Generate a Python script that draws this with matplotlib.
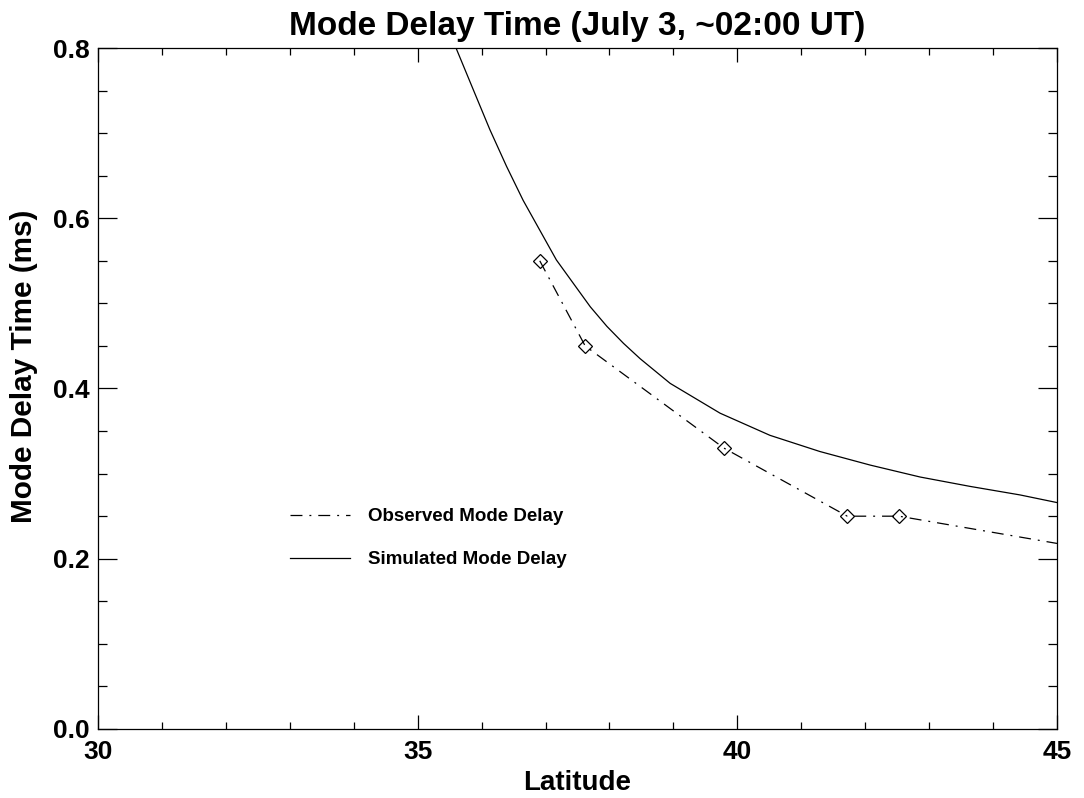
import matplotlib
matplotlib.use("Agg")
import matplotlib.pyplot as plt
from matplotlib.ticker import MultipleLocator, FormatStrFormatter

plt.rcParams['font.family'] = ['Liberation Sans', 'DejaVu Sans']
plt.rcParams['font.weight'] = 'bold'
plt.rcParams['lines.scale_dashes'] = False

# Observed mode delay (diamonds), line continues to right edge
obs_lat = [36.91, 37.62, 39.79, 41.72, 42.53, 45.0]
obs_delay = [0.550, 0.450, 0.330, 0.250, 0.250, 0.218]
obs_marked = 5  # number of points carrying a diamond marker

# Simulated mode delay curve
sim_lat = [35.60, 35.87, 36.13, 36.39, 36.65, 36.91, 37.17, 37.43, 37.70,
           37.96, 38.22, 38.48, 38.95, 39.73, 40.51, 41.29, 42.08, 42.86,
           43.64, 44.42, 45.0]
sim_delay = [0.800, 0.751, 0.704, 0.661, 0.621, 0.586, 0.551, 0.524, 0.496,
             0.473, 0.453, 0.435, 0.406, 0.371, 0.345, 0.326, 0.310, 0.296,
             0.285, 0.275, 0.266]

title = "Mode Delay Time (July 3, ~02:00 UT)"
xlabel = "Latitude"
ylabel = "Mode Delay Time (ms)"
obs_label = "Observed Mode Delay"
sim_label = "Simulated Mode Delay"

fig = plt.figure(figsize=(10.84, 7.98), dpi=100)
ax = fig.add_axes([98/1084, 1 - 729/798, (1057-98)/1084, (729-48)/798])

dashdot = (0, (8.6, 5.0, 1.4, 5.0))
ax.plot(obs_lat, obs_delay, color='black', lw=0.9, linestyle=dashdot,
        label=obs_label)
ax.plot(obs_lat[:obs_marked], obs_delay[:obs_marked], linestyle='none',
        marker='D', markersize=7.5, markerfacecolor='none',
        markeredgecolor='black', markeredgewidth=0.9)
ax.plot(sim_lat, sim_delay, color='black', lw=0.9, label=sim_label)

ax.set_xlim(30, 45)
ax.set_ylim(0, 0.8)
ax.xaxis.set_major_locator(MultipleLocator(5))
ax.xaxis.set_minor_locator(MultipleLocator(1))
ax.yaxis.set_major_locator(MultipleLocator(0.2))
ax.yaxis.set_minor_locator(MultipleLocator(0.05))
ax.yaxis.set_major_formatter(FormatStrFormatter('%.1f'))

ax.tick_params(axis='both', which='both', direction='in', top=True, right=True,
               width=0.9, labelsize=19)
ax.tick_params(axis='x', which='major', length=10, pad=8)
ax.tick_params(axis='x', which='minor', length=5)
ax.tick_params(axis='y', which='major', length=13.5, pad=6)
ax.tick_params(axis='y', which='minor', length=6.8)
for s in ax.spines.values():
    s.set_linewidth(0.9)

ax.set_title(title, fontsize=24, fontweight='bold', pad=9)
ax.set_xlabel(xlabel, fontsize=20, fontweight='bold', labelpad=4)
ax.set_ylabel(ylabel, fontsize=21.4, fontweight='bold')
ax.yaxis.set_label_coords(-0.0627, 0.532)

leg = ax.legend(loc='upper left', bbox_to_anchor=(0.2, 0.3245), frameon=False,
                fontsize=13.5, handlelength=3.2, handletextpad=0.96,
                labelspacing=1.38, borderaxespad=0, borderpad=0)

fig.savefig("out.png", dpi=100)
